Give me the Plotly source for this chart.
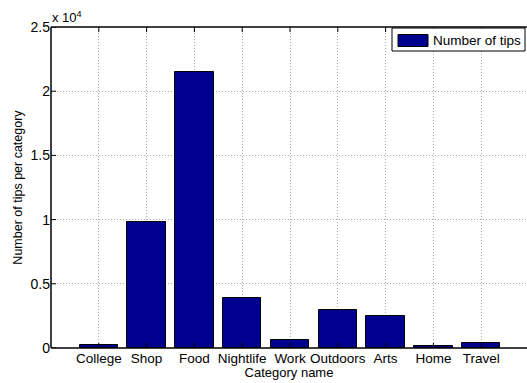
import plotly.graph_objects as go

categories = ["College", "Shop", "Food", "Nightlife", "Work", "Outdoors", "Arts", "Home", "Travel"]
tips = [200, 9850, 21500, 3920, 590, 2950, 2500, 120, 380]
series_name = "Number of tips"
ytick_vals = [0, 5000, 10000, 15000, 20000, 25000]
ytick_text = ["0", "0.5", "1", "1.5", "2", "2.5"]

xpos = list(range(1, len(categories) + 1))

FONT = "Liberation Sans, Arial, Helvetica, sans-serif"
BAR_COLOR = "rgb(0,0,143)"
GRID = "rgb(170,170,170)"

fig = go.Figure()
fig.add_trace(go.Bar(
    x=xpos, y=tips, name=series_name, width=0.8,
    marker=dict(color=BAR_COLOR, line=dict(color="black", width=1)),
    showlegend=False,
))

W, H = 527, 383
L, R, T, B = 51, 0, 27, 35
PW, PH = W - L - R, H - T - B


def px_x(p):
    return (p - L) / PW


def px_y(p):
    return (H - B - p) / PH


fig.update_layout(
    width=W, height=H,
    margin=dict(l=L, r=R, t=T, b=B, pad=0),
    paper_bgcolor="white", plot_bgcolor="white",
    font=dict(family=FONT, size=13, color="black"),
    showlegend=False,
    bargap=0,
)

fig.update_xaxes(
    range=[0, PW / 47.8], automargin=False,
    tickmode="array", tickvals=xpos, ticktext=categories,
    showgrid=True, gridcolor=GRID, griddash="1px,2px", gridwidth=1,
    showline=False, ticks="",
    title=dict(text="Category name", standoff=0, font=dict(size=13)),
    tickfont=dict(size=13.5),
    zeroline=False,
)
fig.update_yaxes(
    range=[0, 25000], automargin=False,
    tickmode="array", tickvals=ytick_vals, ticktext=ytick_text,
    showgrid=True, gridcolor=GRID, griddash="1px,2px", gridwidth=1,
    showline=False, ticks="",
    title=dict(text="Number of tips per category", standoff=5, font=dict(size=12.5)),
    zeroline=False, tickfont=dict(size=14),
)

# axis box lines (left, bottom, top)
for (x0, y0, x1, y1) in [(0, 0, 0, 1), (0, 0, 1, 0), (0, 1, 1, 1)]:
    fig.add_shape(type="line", xref="paper", yref="paper", x0=x0, y0=y0, x1=x1, y1=y1,
                  line=dict(color="black", width=1.5), layer="above")

# inward tick marks
for xv in xpos:
    fig.add_shape(type="line", xref="x", yref="paper", x0=xv, x1=xv, y0=0, y1=5 / PH,
                  line=dict(color="black", width=1), layer="above")
    fig.add_shape(type="line", xref="x", yref="paper", x0=xv, x1=xv, y0=1, y1=1 - 5 / PH,
                  line=dict(color="black", width=1), layer="above")
for yv in ytick_vals:
    fig.add_shape(type="line", xref="paper", yref="y", x0=0, x1=5 / PW, y0=yv, y1=yv,
                  line=dict(color="black", width=1), layer="above")

# legend box (MATLAB style)
fig.add_shape(type="rect", xref="paper", yref="paper",
              x0=px_x(392), x1=px_x(525), y0=px_y(51), y1=px_y(28),
              line=dict(color="black", width=1), fillcolor="white", layer="above")
fig.add_shape(type="rect", xref="paper", yref="paper",
              x0=px_x(398), x1=px_x(428), y0=px_y(46.5), y1=px_y(34.5),
              line=dict(color="black", width=1), fillcolor=BAR_COLOR, layer="above")
fig.add_annotation(
    xref="paper", yref="paper", x=px_x(431), y=px_y(40), xanchor="left", yanchor="middle",
    text=series_name, showarrow=False, font=dict(size=13.5, family=FONT),
)

fig.add_annotation(
    xref="paper", yref="paper", x=0, y=1, xanchor="left", yanchor="bottom",
    text="x 10<sup>4</sup>", showarrow=False, font=dict(size=13, family=FONT),
    xshift=-1, yshift=0,
)

fig.write_html("out.html")
